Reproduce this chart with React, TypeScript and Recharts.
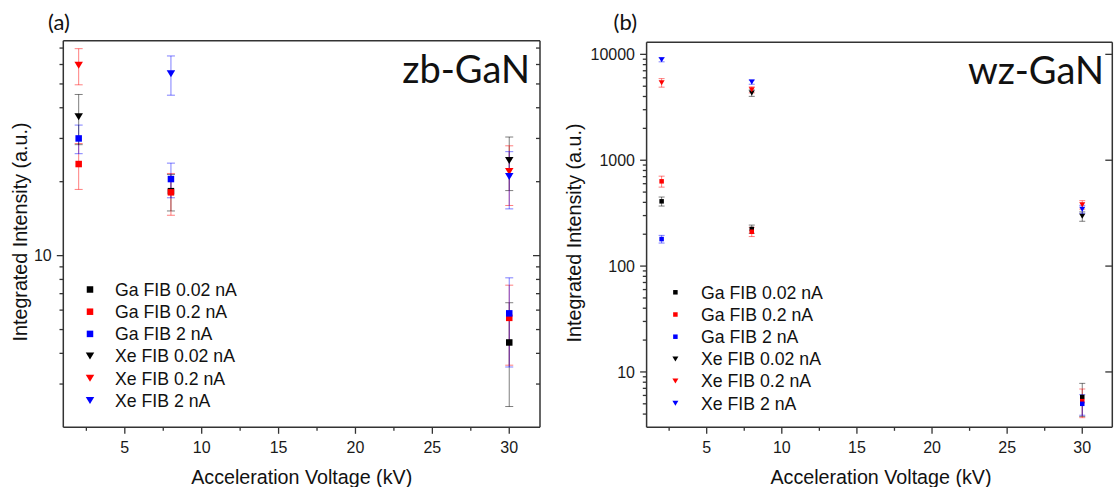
import React from 'react';
import { ScatterChart, Scatter, XAxis, YAxis, ErrorBar } from 'recharts';

// ---------- data ----------
const voltages = [2, 8, 30];
const seriesNames = ['Ga FIB 0.02 nA', 'Ga FIB 0.2 nA', 'Ga FIB 2 nA', 'Xe FIB 0.02 nA', 'Xe FIB 0.2 nA', 'Xe FIB 2 nA'];
const seriesColors = ['#000000', '#ff0000', '#0000ff', '#000000', '#ff0000', '#0000ff'];
const seriesErrColors = ['rgba(0,0,0,0.5)', 'rgba(255,0,0,0.5)', 'rgba(0,0,255,0.5)', 'rgba(0,0,0,0.5)', 'rgba(255,0,0,0.5)', 'rgba(0,0,255,0.5)'];
const seriesShapes = ['square', 'square', 'square', 'down', 'down', 'down'];

// (a) zb-GaN
const zbGa002 = [null, 18.3, 4.43];
const zbGa002Err = [null, 3.1, 2.0];
const zbGa02 = [23.6, 18.1, 5.58];
const zbGa02Err = [5.0, 3.5, 2.0];
const zbGa2 = [30.0, 20.5, 5.82];
const zbGa2Err = [4.0, 3.3, 2.3];
const zbXe002 = [36.8, null, 24.4];
const zbXe002Err = [8.5, null, 6.0];
const zbXe02 = [59.6, null, 22.0];
const zbXe02Err = [10.0, null, 6.0];
const zbXe2 = [null, 55.0, 21.0];
const zbXe2Err = [null, 10.0, 5.5];

// (b) wz-GaN
const wzGa002 = [409, 224, 5.8];
const wzGa002Err = [40, 20, 2.0];
const wzGa02 = [632, 211, 5.3];
const wzGa02Err = [75, 21, 1.6];
const wzGa2 = [180, null, 5.0];
const wzGa2Err = [15, null, 1.1];
const wzXe002 = [null, 4310, 295];
const wzXe002Err = [null, 300, 30];
const wzXe02 = [5400, 4630, 380];
const wzXe02Err = [500, 300, 35];
const wzXe2 = [8900, 5470, 345];
const wzXe2Err = [400, 250, 30];

// ticks
const xDomain = [1, 32];
const xTicks = [2.5, 5, 7.5, 10, 12.5, 15, 17.5, 20, 22.5, 25, 27.5, 30];
const zbYDomain = [2, 75];
const zbYTicks = [3, 4, 5, 6, 7, 8, 9, 10, 20, 30, 40, 50, 60, 70];
const wzYDomain = [3, 13000];
const wzYTicks = [4, 5, 6, 7, 8, 9, 10, 20, 30, 40, 50, 60, 70, 80, 90, 100, 200, 300, 400, 500, 600, 700, 800, 900, 1000, 2000, 3000, 4000, 5000, 6000, 7000, 8000, 9000, 10000];
const wzRightTicks = [10, 100, 1000, 10000];

const zbSeries = [
  [zbGa002, zbGa002Err], [zbGa02, zbGa02Err], [zbGa2, zbGa2Err],
  [zbXe002, zbXe002Err], [zbXe02, zbXe02Err], [zbXe2, zbXe2Err],
];
const wzSeries = [
  [wzGa002, wzGa002Err], [wzGa02, wzGa02Err], [wzGa2, wzGa2Err],
  [wzXe002, wzXe002Err], [wzXe02, wzXe02Err], [wzXe2, wzXe2Err],
];

const buildData = (vals: (number | null)[], errs: (number | null)[]) =>
  voltages
    .map((v, i) => ({ x: v, y: vals[i], err: errs[i] }))
    .filter((d) => d.y != null);

// ---------- styling helpers ----------
const FONT = "'Liberation Sans', Arial, Helvetica, sans-serif";
const TITLE_FONT = "Lato, 'Open Sans', sans-serif";
const AXIS = '#333';

const isDecade = (v: number) => Math.abs(Math.log10(v) - Math.round(Math.log10(v))) < 1e-9;

const bottomTick = (p: any) => {
  const v = p.payload.value;
  const major = v % 5 === 0;
  return (
    <g>
      <line x1={p.x} y1={p.y} x2={p.x} y2={p.y + (major ? 6.5 : 3.5)} stroke={AXIS} strokeWidth={1.3} />
      {major && (
        <text x={p.x} y={p.y + 26} textAnchor="middle" fontSize={16} fontFamily={FONT} fill="#1a1a1a">
          {v}
        </text>
      )}
    </g>
  );
};

const topTick = (p: any) => {
  const v = p.payload.value;
  const major = v % 5 === 0;
  return <line x1={p.x} y1={p.y} x2={p.x} y2={p.y + (major ? 7 : 4)} stroke={AXIS} strokeWidth={1.3} />;
};

const leftTick = (p: any) => {
  const v = p.payload.value;
  const major = isDecade(v);
  return (
    <g>
      <line x1={p.x} y1={p.y} x2={p.x - (major ? 6.5 : 3.8)} y2={p.y} stroke={AXIS} strokeWidth={1.3} />
      {major && (
        <text x={p.x - 11.6} y={p.y + 5.7} textAnchor="end" fontSize={16} fontFamily={FONT} fill="#1a1a1a">
          {v}
        </text>
      )}
    </g>
  );
};

const rightTick = (p: any) => {
  const v = p.payload.value;
  const major = isDecade(v);
  return <line x1={p.x} y1={p.y} x2={p.x - (major ? 7 : 4)} y2={p.y} stroke={AXIS} strokeWidth={1.3} />;
};

const makeShape = (kind: string, color: string, sq: number, tw: number, th: number) => (p: any) => {
  const { cx, cy } = p;
  if (cx == null || cy == null) return <g />;
  if (kind === 'square') {
    return <rect x={cx - sq / 2} y={cy - sq / 2} width={sq} height={sq} fill={color} />;
  }
  return (
    <polygon
      points={`${cx - tw / 2},${cy - th / 2} ${cx + tw / 2},${cy - th / 2} ${cx},${cy + th / 2}`}
      fill={color}
    />
  );
};

type PanelProps = {
  width: number;
  height: number;
  margin: { top: number; right: number; bottom: number; left: number };
  yDomain: number[];
  yTicks: number[];
  rightTicks: number[];
  series: any[];
  sq: number;
  tw: number;
  th: number;
  cap: number;
};

const Panel = ({ width, height, margin, yDomain, yTicks, rightTicks, series, sq, tw, th, cap }: PanelProps) => (
  <ScatterChart width={width} height={height} margin={margin}>
    <XAxis
      xAxisId="b"
      type="number"
      dataKey="x"
      domain={xDomain}
      allowDataOverflow
      ticks={xTicks}
      interval={0}
      height={1}
      tickSize={0}
      tickMargin={0}
      tickLine={false}
      axisLine={{ stroke: AXIS, strokeWidth: 1.5 }}
      tick={bottomTick}
    />
    <XAxis
      xAxisId="t"
      orientation="top"
      type="number"
      domain={xDomain}
      allowDataOverflow
      ticks={xTicks}
      interval={0}
      height={1}
      tickSize={0}
      tickMargin={0}
      tickLine={false}
      axisLine={{ stroke: AXIS, strokeWidth: 1.5 }}
      tick={topTick}
    />
    <YAxis
      yAxisId="l"
      type="number"
      dataKey="y"
      scale="log"
      domain={yDomain}
      allowDataOverflow
      ticks={yTicks}
      interval={0}
      width={1}
      tickSize={0}
      tickMargin={0}
      tickLine={false}
      axisLine={{ stroke: AXIS, strokeWidth: 1.5 }}
      tick={leftTick}
    />
    <YAxis
      yAxisId="r"
      orientation="right"
      type="number"
      scale="log"
      domain={yDomain}
      allowDataOverflow
      ticks={rightTicks}
      interval={0}
      width={1}
      tickSize={0}
      tickMargin={0}
      tickLine={false}
      axisLine={{ stroke: AXIS, strokeWidth: 1.5 }}
      tick={rightTick}
    />
    {series.map(([vals, errs], i) => (
      <Scatter
        key={seriesNames[i]}
        name={seriesNames[i]}
        xAxisId="b"
        yAxisId="l"
        data={buildData(vals, errs)}
        isAnimationActive={false}
        shape={makeShape(seriesShapes[i], seriesColors[i], sq, tw, th)}
      >
        <ErrorBar dataKey="err" direction="y" width={cap} stroke={seriesErrColors[i]} strokeWidth={1} />
      </Scatter>
    ))}
  </ScatterChart>
);

const LegendBlock = ({ mx, tx, top, step, sq, tw, th }: any) => (
  <g>
    {seriesNames.map((n, i) => {
      const cy = top + i * step;
      const c = seriesColors[i];
      return (
        <g key={n}>
          {seriesShapes[i] === 'square' ? (
            <rect x={mx - sq / 2} y={cy - sq / 2} width={sq} height={sq} fill={c} />
          ) : (
            <polygon points={`${mx - tw / 2},${cy - th / 2} ${mx + tw / 2},${cy - th / 2} ${mx},${cy + th / 2}`} fill={c} />
          )}
          <text x={tx} y={cy + 6.3} fontSize={17.7} fontFamily={FONT} fill="#111">
            {n}
          </text>
        </g>
      );
    })}
  </g>
);

export default function App() {
  return (
    <div style={{ position: 'absolute', left: 0, top: 0, width: 1115, height: 487, background: '#fff', overflow: 'hidden' }}>
      <div style={{ position: 'absolute', left: 0, top: 0 }}>
        <Panel
          width={560}
          height={487}
          margin={{ top: 39.7, right: 19, bottom: 58.7, left: 62.3 }}
          yDomain={zbYDomain}
          yTicks={zbYTicks}
          rightTicks={zbYTicks}
          series={zbSeries}
          sq={6.5}
          tw={8.5}
          th={7}
          cap={4}
        />
      </div>
      <div style={{ position: 'absolute', left: 560, top: 0 }}>
        <Panel
          width={555}
          height={487}
          margin={{ top: 41.3, right: 1.7, bottom: 58.7, left: 85.6 }}
          yDomain={wzYDomain}
          yTicks={wzYTicks}
          rightTicks={wzRightTicks}
          series={wzSeries}
          sq={4.5}
          tw={6}
          th={5}
          cap={3}
        />
      </div>
      <svg width={1115} height={487} style={{ position: 'absolute', left: 0, top: 0, pointerEvents: 'none' }}>
        {/* panel labels */}
        <text x={48} y={30} fontSize={22} fontFamily={TITLE_FONT} fill="#111">(a)</text>
        <text x={613.6} y={30} fontSize={22} fontFamily={TITLE_FONT} fill="#111">(b)</text>
        <text x={530} y={83} textAnchor="end" fontSize={38} fontFamily={TITLE_FONT} fill="#111">zb-GaN</text>
        <text x={1104} y={84} textAnchor="end" fontSize={38} fontFamily={TITLE_FONT} fill="#111">wz-GaN</text>
        {/* axis titles */}
        <text x={301.7} y={484} textAnchor="middle" fontSize={19.7} fontFamily={FONT} fill="#111">Acceleration Voltage (kV)</text>
        <text x={881} y={484} textAnchor="middle" fontSize={19.7} fontFamily={FONT} fill="#111">Acceleration Voltage (kV)</text>
        <text transform="translate(26.5,232) rotate(-90)" textAnchor="middle" fontSize={19.7} fontFamily={FONT} fill="#111">Integrated Intensity (a.u.)</text>
        <text transform="translate(581,233) rotate(-90)" textAnchor="middle" fontSize={19.7} fontFamily={FONT} fill="#111">Integrated Intensity (a.u.)</text>
        {/* legends */}
        <LegendBlock mx={90} tx={115} top={289.5} step={22.2} sq={6.5} tw={8.5} th={7} />
        <LegendBlock mx={675.4} tx={701} top={292.3} step={22.2} sq={4.5} tw={6} th={5} />
      </svg>
    </div>
  );
}
